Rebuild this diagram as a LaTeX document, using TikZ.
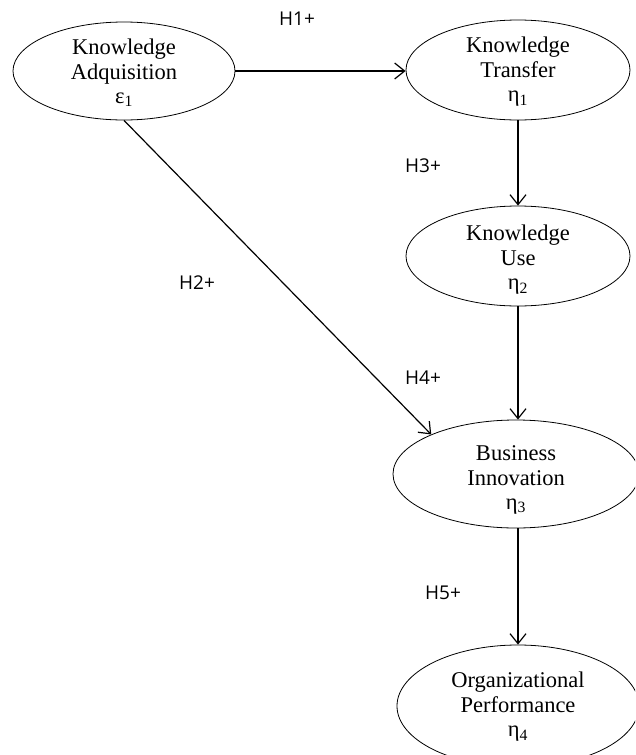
\documentclass[tikz,border=0pt]{standalone}
\usepackage{fontspec}
\setmainfont{Liberation Serif}
\newfontfamily\labfont{Open Sans}
\usetikzlibrary{shapes.geometric,arrows.meta}
\begin{document}
\begin{tikzpicture}[x=1pt,y=-1pt,
  ell/.style={draw, ellipse, line width=0.8pt, inner sep=0pt},
  txt/.style={align=center, font=\fontsize{22.5}{24.5}\selectfont, inner sep=0pt},
  hyp/.style={font=\labfont\fontsize{19}{21}\selectfont, inner sep=0pt},
  arr/.style={-{Straight Barb[length=10pt,width=16pt]}, line width=1.2pt}]
\useasboundingbox (0,0) rectangle (635,755);
\clip (0,0) rectangle (635,755);
% ellipses
\node[ell, minimum width=222pt, minimum height=98pt] (ka) at (124,71) {};
\node[ell, minimum width=224pt, minimum height=100pt] (kt) at (518,70) {};
\node[ell, minimum width=224pt, minimum height=100pt] (ku) at (518,256) {};
\node[ell, minimum width=246pt, minimum height=108pt] (bi) at (516,474) {};
\node[ell, minimum width=242pt, minimum height=122pt] (op) at (518,706) {};
% texts
\node[txt] (kat) at (124,73) {Knowledge\\Adquisition\\ε\textsubscript{1}};
\node[txt] (ktt) at (518,72) {Knowledge\\Transfer\\η\textsubscript{1}};
\node[txt] (kut) at (518,260) {Knowledge\\Use\\η\textsubscript{2}};
\node[txt] (bit) at (516,480) {Business\\Innovation\\η\textsubscript{3}};
\node[txt] (opt) at (518,707) {Organizational\\Performance\\η\textsubscript{4}};
% hypothesis labels
\node[hyp] (h1) at (297,19) {H1+};
\node[hyp] (h2) at (197,283) {H2+};
\node[hyp] (h3) at (423,166) {H3+};
\node[hyp] (h4) at (423,378) {H4+};
\node[hyp] (h5) at (443,593) {H5+};
% connectors
\draw[arr] (ka.east) -- (kt.west |- ka.east);
\draw[arr] (kt.south) -- (ku.north);
\draw[arr] (ku.south) -- (ku.south |- bi.north);
\draw[arr] (ka.south) -- (bi.155.6);
\draw[arr] (bi.south -| op.north) -- (op.north);
\end{tikzpicture}
\end{document}
